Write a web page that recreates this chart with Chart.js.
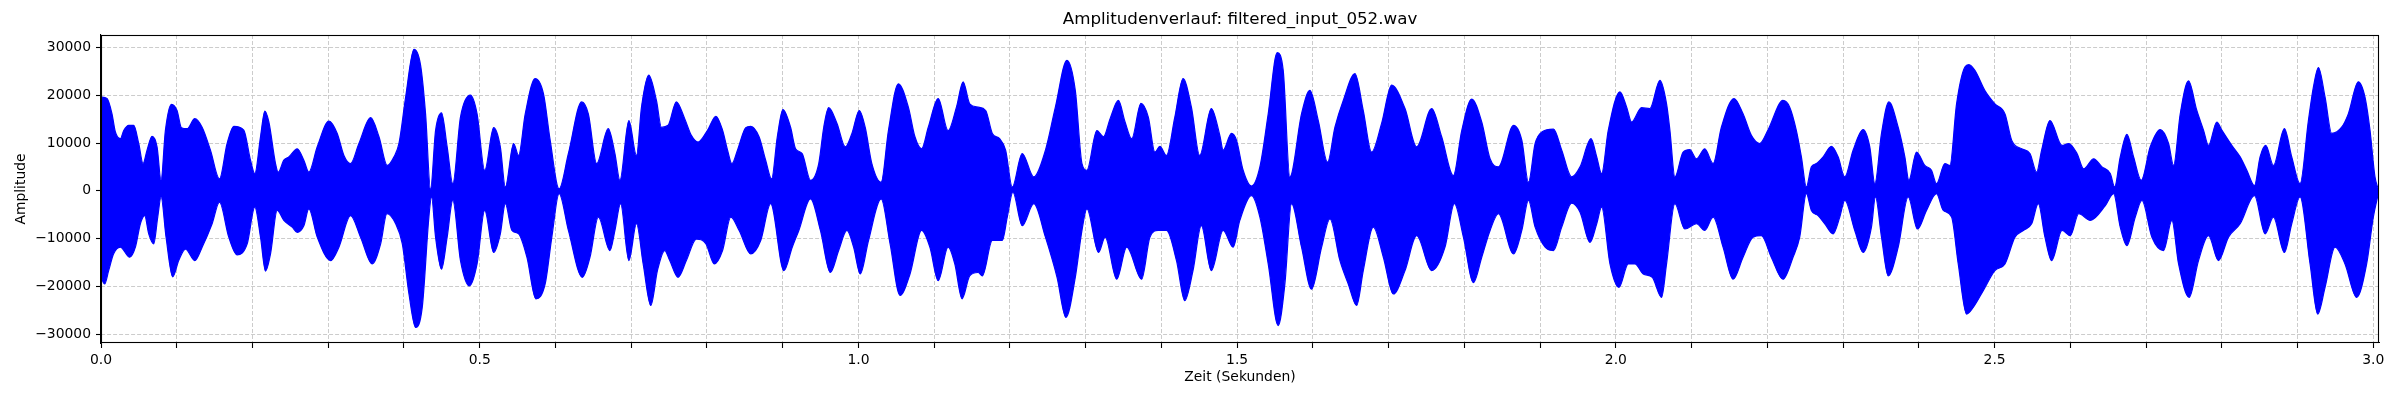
<!DOCTYPE html>
<html>
<head>
<meta charset="utf-8">
<title>Amplitudenverlauf</title>
<script src="https://cdn.jsdelivr.net/npm/chart.js@4.4.0/dist/chart.umd.min.js"></script>
<style>
  html, body { margin: 0; padding: 0; background: #fff; }
  #wrap { width: 2400px; height: 400px; }
</style>
</head>
<body>
<div id="wrap"><canvas id="chart" width="2400" height="400"></canvas></div>
<script>
// Texte
const TITLE = 'Amplitudenverlauf: filtered_input_052.wav';
const X_LABEL = 'Zeit (Sekunden)';
const Y_LABEL = 'Amplitude';

// Achsen
const X_MAX = 3.0075;
const Y_MIN = -31850;
const Y_MAX = 32600;
const X_TICKS = [0, 0.1, 0.2, 0.3, 0.4, 0.5, 0.6, 0.7, 0.8, 0.9, 1.0, 1.1, 1.2, 1.3, 1.4, 1.5,
  1.6, 1.7, 1.8, 1.9, 2.0, 2.1, 2.2, 2.3, 2.4, 2.5, 2.6, 2.7, 2.8, 2.9, 3.0];
const X_LABELED = [0, 0.5, 1.0, 1.5, 2.0, 2.5, 3.0];
const Y_TICKS = [-30000, -20000, -10000, 0, 10000, 20000, 30000];

// obere Huellkurve (Zeit in s, Amplitude)
const UP_T = [0, 0.008, 0.0145, 0.019, 0.0255, 0.03, 0.0366, 0.0432, 0.0498, 0.0555, 0.0608, 0.0674, 0.074, 0.0793,
  0.085, 0.093, 0.1004, 0.1062, 0.1137, 0.1238, 0.1335, 0.1445, 0.1564, 0.1665, 0.1753, 0.1885, 0.1974, 0.2031,
  0.2106, 0.2163, 0.2216, 0.2304, 0.2339, 0.2414, 0.248, 0.259, 0.2678, 0.2744, 0.2855, 0.3009, 0.3119, 0.3207,
  0.3295, 0.3405, 0.356, 0.367, 0.378, 0.3868, 0.3934, 0.4022, 0.4132, 0.4219, 0.4285, 0.4351, 0.4417, 0.4496,
  0.457, 0.4645, 0.4746, 0.4877, 0.4965, 0.5066, 0.5184, 0.5272, 0.5338, 0.5447, 0.5513, 0.5601, 0.5732, 0.5842,
  0.593, 0.6048, 0.6171, 0.6346, 0.6434, 0.6544, 0.6697, 0.6785, 0.6851, 0.6969, 0.707, 0.7136, 0.7232, 0.7333,
  0.7399, 0.7487, 0.7596, 0.7706, 0.7794, 0.7882, 0.8009, 0.8118, 0.8206, 0.8272, 0.8329, 0.8403, 0.8512, 0.8578,
  0.8688, 0.8775, 0.8854, 0.8929, 0.9003, 0.9104, 0.917, 0.9257, 0.9367, 0.9476, 0.9542, 0.9607, 0.9717, 0.9827,
  0.9914, 1.0011, 1.0089, 1.0177, 1.03, 1.0396, 1.0527, 1.0659, 1.0746, 1.0834, 1.0922, 1.1053, 1.1184, 1.1294,
  1.1382, 1.1469, 1.1579, 1.168, 1.1768, 1.1864, 1.1943, 1.2031, 1.2162, 1.2315, 1.2469, 1.26, 1.2753, 1.2863,
  1.2951, 1.3016, 1.3148, 1.3235, 1.3323, 1.3432, 1.352, 1.3608, 1.373, 1.3827, 1.3914, 1.398, 1.4067, 1.4177,
  1.4286, 1.4396, 1.4505, 1.4659, 1.4771, 1.4815, 1.4925, 1.4991, 1.5079, 1.5189, 1.53, 1.541, 1.5529, 1.5608,
  1.5696, 1.585, 1.596, 1.6071, 1.6194, 1.6291, 1.6401, 1.6555, 1.6665, 1.6775, 1.6907, 1.704, 1.7216, 1.737,
  1.7568, 1.77, 1.7855, 1.7965, 1.8097, 1.8229, 1.8339, 1.8449, 1.8649, 1.8758, 1.8846, 1.8934, 1.9022, 1.9176,
  1.9285, 1.9417, 1.9527, 1.9672, 1.9747, 1.9812, 1.99, 2.0054, 2.0142, 2.0208, 2.0339, 2.0449, 2.0581, 2.0669,
  2.0713, 2.0779, 2.0888, 2.0976, 2.1064, 2.1174, 2.1284, 2.1393, 2.156, 2.1679, 2.1789, 2.1899, 2.2008, 2.2206,
  2.2295, 2.2383, 2.2449, 2.2515, 2.2581, 2.2648, 2.2736, 2.2846, 2.2934, 2.3022, 2.3132, 2.3264, 2.3352, 2.3419,
  2.3507, 2.3604, 2.3727, 2.3815, 2.3868, 2.3969, 2.4079, 2.4167, 2.4233, 2.4344, 2.441, 2.4498, 2.4608, 2.4661,
  2.474, 2.4872, 2.5004, 2.5137, 2.5225, 2.5357, 2.5467, 2.5555, 2.5621, 2.5731, 2.589, 2.5978, 2.6088, 2.6176,
  2.6308, 2.6418, 2.6527, 2.6585, 2.6659, 2.6747, 2.6835, 2.6936, 2.7055, 2.7187, 2.7297, 2.7363, 2.7451, 2.756,
  2.767, 2.7758, 2.7824, 2.7934, 2.8, 2.8132, 2.8242, 2.833, 2.8431, 2.8505, 2.858, 2.8681, 2.8826, 2.8923,
  2.9033, 2.9143, 2.9209, 2.9275, 2.9363, 2.9451, 2.9582, 2.967, 2.9802, 2.989, 2.9956, 3.0022, 3.0066];
const UP_V = [19600, 19300, 16100, 12300, 10900, 12600, 13700, 13700, 9900, 5700, 8500, 11400, 9200, 2200,
  12600, 18100, 16800, 13200, 13000, 15100, 13300, 8500, 2500, 9900, 13500, 12700, 6400, 3600,
  11300, 16700, 14400, 5700, 3900, 6400, 7100, 8800, 6400, 3900, 9200, 14600, 12000, 7400,
  5700, 9900, 15300, 11300, 5300, 7100, 9900, 19600, 29600, 26300, 16100, 300, 12600, 16300,
  9200, 1500, 15400, 20000, 16100, 4300, 13200, 9200, 800, 9900, 7400, 16100, 23500, 20300,
  10600, 400, 7800, 18600, 16100, 5700, 13000, 7800, 2200, 14700, 7400, 17500, 24200, 18900,
  13300, 13700, 18600, 15100, 11600, 10200, 12700, 15600, 12700, 8500, 5700, 8500, 13200, 13500,
  11300, 6400, 2500, 11300, 17000, 13300, 8800, 7800, 2200, 5700, 13300, 17400, 14100, 9200,
  12000, 16800, 13300, 5700, 1800, 12600, 22400, 17500, 11300, 8800, 13300, 19300, 12600, 17500,
  22800, 18200, 17500, 16800, 12000, 10900, 8500, 800, 7800, 2900, 8500, 17500, 27300, 21000,
  5700, 4300, 12600, 11300, 15100, 18900, 14400, 10900, 18300, 15400, 8100, 9300, 7400, 15400,
  23500, 17500, 7400, 17200, 11600, 8500, 12000, 10600, 4300, 1000, 5000, 16100, 28900, 25200,
  2900, 16100, 21000, 14700, 6000, 13300, 18900, 24500, 16800, 8100, 14100, 22100, 17200, 9200,
  17200, 11300, 3200, 12600, 19200, 14400, 6700, 5000, 13700, 10600, 1800, 9900, 12300, 12900,
  8500, 2900, 5000, 10900, 7100, 3600, 12700, 20700, 17500, 14400, 17400, 17200, 23100, 18200,
  12700, 2900, 8100, 8600, 6700, 8800, 5700, 13300, 19300, 16100, 11600, 9900, 12700, 18900,
  17500, 12600, 7100, 800, 5000, 5700, 7100, 9300, 7100, 2900, 8500, 12800, 9200, 1500,
  12000, 18600, 13300, 7100, 2200, 8100, 5300, 4300, 1500, 5700, 5300, 18200, 25900, 26400,
  25200, 21000, 18200, 16100, 10600, 8800, 7800, 3900, 8500, 14700, 9500, 9900, 7800, 4600,
  6700, 5000, 3600, 800, 7100, 11800, 7100, 2200, 9200, 12800, 9900, 5300, 16100, 23000,
  16800, 12700, 9500, 14400, 12700, 9500, 7100, 4300, 1100, 7100, 9500, 5300, 13000, 7100,
  1500, 14700, 21700, 25800, 19600, 12000, 13300, 16100, 22800, 19600, 12700, 2900, 300];

// untere Huellkurve (Zeit in s, Amplitude)
const LO_T = [0, 0.0048, 0.0101, 0.0167, 0.0255, 0.0379, 0.0454, 0.052, 0.0577, 0.063, 0.0696, 0.0749, 0.0793,
  0.0859, 0.0947, 0.1026, 0.1115, 0.1238, 0.1335, 0.1467, 0.1564, 0.1687, 0.1797, 0.193, 0.2031, 0.2106, 0.2172,
  0.2238, 0.2326, 0.2414, 0.2524, 0.259, 0.2678, 0.2744, 0.2855, 0.3031, 0.3141, 0.3295, 0.3427, 0.3581, 0.3692,
  0.3775, 0.389, 0.3978, 0.4066, 0.4154, 0.4241, 0.4329, 0.4364, 0.4417, 0.4496, 0.457, 0.4645, 0.4746, 0.4864,
  0.4965, 0.5066, 0.5184, 0.5272, 0.5338, 0.5425, 0.5513, 0.5623, 0.5741, 0.5864, 0.5952, 0.6048, 0.6171, 0.6355,
  0.6456, 0.6566, 0.6719, 0.6785, 0.686, 0.6969, 0.707, 0.7158, 0.7259, 0.7346, 0.7443, 0.7509, 0.7618, 0.7728,
  0.786, 0.7987, 0.8096, 0.8206, 0.8315, 0.8425, 0.8578, 0.871, 0.8841, 0.9016, 0.9126, 0.9213, 0.9367, 0.9498,
  0.9629, 0.9739, 0.9848, 0.9936, 1.0024, 1.0133, 1.03, 1.0418, 1.0549, 1.0681, 1.0834, 1.0943, 1.1053, 1.1184,
  1.1272, 1.1368, 1.1469, 1.1579, 1.1636, 1.1768, 1.1899, 1.1965, 1.2039, 1.2162, 1.2315, 1.2469, 1.2622, 1.274,
  1.2863, 1.2951, 1.3016, 1.317, 1.3257, 1.341, 1.3542, 1.3739, 1.3848, 1.3958, 1.4067, 1.4199, 1.4308, 1.4417,
  1.4527, 1.4659, 1.4815, 1.4947, 1.5035, 1.5189, 1.53, 1.541, 1.5542, 1.563, 1.5718, 1.585, 1.5982, 1.6115,
  1.6225, 1.6357, 1.6467, 1.6577, 1.6665, 1.6797, 1.693, 1.7062, 1.7216, 1.737, 1.7568, 1.7744, 1.7868, 1.7987,
  1.8119, 1.8229, 1.8339, 1.8449, 1.8649, 1.8758, 1.8846, 1.8934, 1.9066, 1.9176, 1.9285, 1.9417, 1.9527, 1.9659,
  1.9747, 1.9812, 1.9922, 2.0041, 2.0164, 2.0252, 2.0361, 2.048, 2.0603, 2.0669, 2.0779, 2.091, 2.1064, 2.1174,
  2.1284, 2.1415, 2.1547, 2.1679, 2.1811, 2.1921, 2.2052, 2.2206, 2.2339, 2.2427, 2.2515, 2.2581, 2.267, 2.2758,
  2.2868, 2.2956, 2.3022, 2.3154, 2.3264, 2.3374, 2.3427, 2.3507, 2.3595, 2.3727, 2.3859, 2.3982, 2.4101, 2.4233,
  2.4322, 2.4432, 2.452, 2.463, 2.4718, 2.485, 2.5004, 2.5137, 2.5269, 2.5379, 2.5489, 2.5577, 2.5665, 2.5753,
  2.589, 2.6, 2.611, 2.6264, 2.6462, 2.6571, 2.6659, 2.6747, 2.6857, 2.6945, 2.7077, 2.7231, 2.7341, 2.7429,
  2.7569, 2.7692, 2.7824, 2.7956, 2.8088, 2.8242, 2.8431, 2.8571, 2.8681, 2.8826, 2.8923, 2.9033, 2.9165, 2.9266,
  2.9363, 2.9495, 2.9626, 2.978, 2.9912, 3.0, 3.0066];
const LO_V = [-18100, -19500, -16700, -13200, -11800, -13900, -11800, -6900, -5200, -9000, -11100, -5500, -1300,
  -9700, -18000, -14600, -12200, -14600, -11800, -6900, -2400, -9700, -13400, -11100, -3400, -9700, -16800,
  -13200, -4100, -6200, -7600, -8700, -7300, -3800, -9700, -14600, -11800, -5200, -9700, -15300, -11100,
  -4800, -6900, -11100, -21600, -28600, -24400, -5500, -1300, -9700, -16400, -9700, -2000, -14600, -19900,
  -15300, -4100, -12900, -9000, -2700, -8300, -9000, -13900, -22600, -19500, -9700, -600, -8300, -18100,
  -13900, -5500, -12500, -8300, -2700, -14600, -6900, -15300, -24000, -16700, -12500, -14600, -18100, -14600,
  -10100, -11100, -15300, -12500, -5500, -8300, -13200, -10400, -2700, -16700, -11800, -8300, -1700, -8300,
  -17100, -12500, -8300, -11800, -17400, -10400, -1700, -11100, -21900, -17400, -8300, -11800, -18800, -11800,
  -15300, -22600, -17800, -17100, -17800, -10400, -10400, -5500, -300, -7300, -2700, -9700, -18100, -26500,
  -18100, -8300, -3800, -12900, -9700, -18500, -11800, -18500, -9700, -8300, -8300, -14600, -23000, -16700,
  -7300, -16700, -8300, -11800, -6200, -1000, -5500, -15300, -28200, -19500, -2700, -11800, -20600, -11800,
  -5900, -14600, -19500, -24000, -16700, -7600, -13900, -21600, -16700, -9400, -16700, -11800, -2700, -9700,
  -19200, -13900, -8300, -4800, -13200, -8300, -2000, -7600, -11800, -12500, -7600, -2600, -4500, -10800,
  -6900, -3400, -15300, -20200, -15300, -15300, -17400, -18100, -22300, -15300, -2700, -8000, -6900, -8300,
  -5500, -11800, -18500, -13900, -9700, -9400, -13900, -18500, -13900, -9700, -600, -4100, -5200, -6900,
  -9000, -5500, -2000, -8300, -12900, -7600, -1300, -9700, -17800, -11800, -1300, -8000, -4100, -600,
  -4100, -5500, -15300, -25800, -24400, -20900, -16700, -15300, -9700, -8300, -6900, -2700, -9700, -14600,
  -8300, -9400, -4800, -6200, -3100, -600, -7600, -11500, -5500, -2000, -9700, -12500, -6200, -15300,
  -22300, -14600, -9400, -14600, -9700, -6900, -1000, -9000, -5500, -12900, -6900, -1300, -15300, -25800,
  -20200, -11800, -15300, -22300, -15300, -5500, -600];

const BLUE = '#0000ff';
const GRID = '#cccccc';
const FONT = "'DejaVu Sans', sans-serif";

Chart.defaults.font.family = FONT;
Chart.defaults.color = '#000';

const toPoints = (ts, vs) => ts.map((t, i) => ({ x: t, y: vs[i] }));
const fmtY = v => (v < 0 ? '\u2212' + Math.abs(v) : String(v));

// Titel ueber der Plotflaeche zentriert, Rahmen rundherum
const frameAndTitle = {
  id: 'frameAndTitle',
  afterDraw(chart) {
    const { ctx, chartArea: a } = chart;
    ctx.save();
    ctx.strokeStyle = '#000';
    ctx.lineWidth = 1.1;
    ctx.strokeRect(Math.round(a.left) + 0.5, Math.round(a.top) + 0.5,
      Math.round(a.right - a.left) - 1, Math.round(a.bottom - a.top) - 1);
    ctx.fillStyle = '#000';
    ctx.font = '16.7px ' + FONT;
    ctx.textAlign = 'center';
    ctx.textBaseline = 'middle';
    ctx.fillText(TITLE, (a.left + a.right) / 2, 20);
    ctx.restore();
  }
};

const gridCfg = {
  color: GRID,
  lineWidth: 1,
  borderDash: [4, 2],
  tickColor: '#000',
  tickLength: 5,
  tickWidth: 1.1,
  tickBorderDash: []
};

const envelope = {
  borderColor: BLUE,
  backgroundColor: BLUE,
  borderWidth: 1.2,
  pointRadius: 0,
  cubicInterpolationMode: 'monotone'
};

new Chart(document.getElementById('chart'), {
  type: 'line',
  data: {
    datasets: [
      Object.assign({ label: 'oben', data: toPoints(UP_T, UP_V), fill: '+1' }, envelope),
      Object.assign({ label: 'unten', data: toPoints(LO_T, LO_V), fill: false }, envelope)
    ]
  },
  options: {
    responsive: false,
    animation: false,
    devicePixelRatio: 1,
    layout: { padding: { top: 35, right: 21, left: 0, bottom: 0 } },
    plugins: {
      legend: { display: false },
      tooltip: { enabled: false },
      title: { display: false }
    },
    scales: {
      x: {
        type: 'linear',
        min: 0,
        max: X_MAX,
        afterBuildTicks: s => { s.ticks = X_TICKS.map(v => ({ value: v })); },
        afterFit: s => { s.height = 57; },
        ticks: {
          autoSkip: false,
          maxRotation: 0,
          padding: 4,
          font: { size: 13.9 },
          callback: v => (X_LABELED.some(l => Math.abs(l - v) < 1e-6) ? v.toFixed(1) : '')
        },
        grid: gridCfg,
        border: { display: true, color: '#000', width: 1.1, dash: [4, 2] },
        title: {
          display: true,
          text: X_LABEL,
          font: { size: 13.9 },
          padding: { top: 0, bottom: 14 }
        }
      },
      y: {
        type: 'linear',
        min: Y_MIN,
        max: Y_MAX,
        afterBuildTicks: s => { s.ticks = Y_TICKS.map(v => ({ value: v })); },
        afterFit: s => { s.width = 101; },
        ticks: {
          padding: 5,
          font: { size: 13.9 },
          callback: v => fmtY(v)
        },
        grid: gridCfg,
        border: { display: true, color: '#000', width: 1.1, dash: [4, 2] },
        title: {
          display: true,
          text: Y_LABEL,
          font: { size: 13.9 },
          padding: { top: 13, bottom: 13 }
        }
      }
    }
  },
  plugins: [frameAndTitle]
});
</script>
</body>
</html>
